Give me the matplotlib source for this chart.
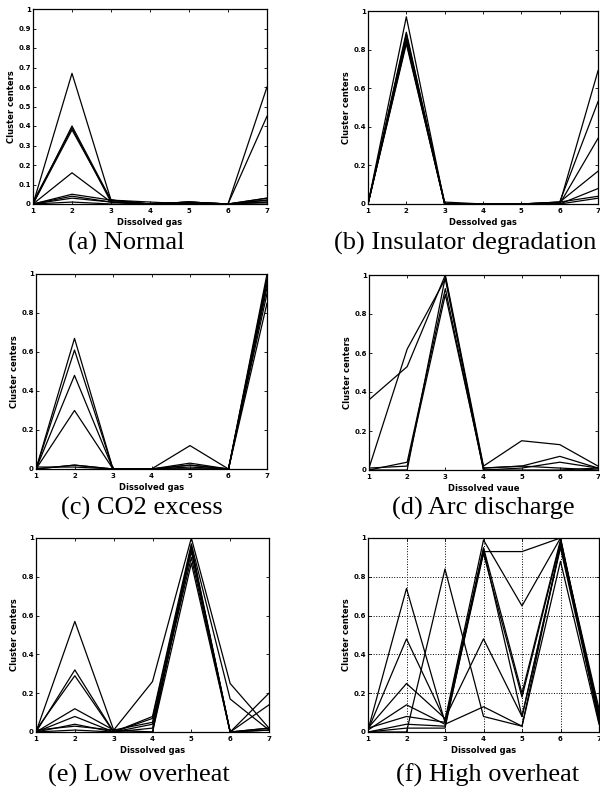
import matplotlib
matplotlib.use("Agg")
import matplotlib.pyplot as plt

gas = [1, 2, 3, 4, 5, 6, 7]

# (a) Normal
normal = [
    [0.0, 0.67, 0.02, 0.0, 0.01, 0.0, 0.60],
    [0.0, 0.40, 0.02, 0.0, 0.0, 0.0, 0.45],
    [0.01, 0.39, 0.01, 0.0, 0.01, 0.0, 0.03],
    [0.0, 0.38, 0.02, 0.01, 0.0, 0.0, 0.02],
    [0.0, 0.16, 0.01, 0.0, 0.01, 0.0, 0.01],
    [0.0, 0.05, 0.02, 0.0, 0.0, 0.0, 0.03],
    [0.0, 0.04, 0.01, 0.0, 0.0, 0.0, 0.02],
    [0.0, 0.03, 0.01, 0.0, 0.01, 0.0, 0.01],
    [0.0, 0.01, 0.0, 0.0, 0.0, 0.0, 0.0],
]

# (b) Insulator degradation
insulator = [
    [0.0, 0.97, 0.0, 0.0, 0.0, 0.0, 0.69],
    [0.0, 0.89, 0.0, 0.0, 0.0, 0.01, 0.53],
    [0.0, 0.88, 0.0, 0.0, 0.0, 0.0, 0.34],
    [0.0, 0.86, 0.01, 0.0, 0.0, 0.01, 0.17],
    [0.0, 0.84, 0.0, 0.0, 0.0, 0.0, 0.08],
    [0.0, 0.83, 0.0, 0.0, 0.0, 0.01, 0.04],
    [0.0, 0.85, 0.0, 0.0, 0.0, 0.0, 0.03],
]

# (c) CO2 excess
co2 = [
    [0.0, 0.67, 0.0, 0.0, 0.0, 0.0, 1.0],
    [0.0, 0.61, 0.0, 0.0, 0.0, 0.0, 0.98],
    [0.0, 0.48, 0.0, 0.0, 0.01, 0.0, 0.95],
    [0.0, 0.30, 0.0, 0.0, 0.02, 0.0, 0.93],
    [0.0, 0.02, 0.0, 0.0, 0.12, 0.0, 0.90],
    [0.01, 0.01, 0.0, 0.0, 0.03, 0.0, 0.85],
    [0.0, 0.02, 0.0, 0.0, 0.02, 0.0, 0.97],
]

# (d) Arc discharge
arc = [
    [0.36, 0.53, 1.0, 0.02, 0.15, 0.13, 0.02],
    [0.01, 0.62, 0.98, 0.01, 0.02, 0.07, 0.01],
    [0.0, 0.04, 0.93, 0.0, 0.01, 0.04, 0.01],
    [0.01, 0.02, 0.90, 0.01, 0.02, 0.01, 0.0],
    [0.0, 0.0, 0.99, 0.0, 0.0, 0.0, 0.01],
]

# (e) Low overheat
low_heat = [
    [0.0, 0.57, 0.01, 0.26, 1.0, 0.25, 0.02],
    [0.0, 0.32, 0.0, 0.08, 0.97, 0.17, 0.01],
    [0.01, 0.29, 0.0, 0.07, 0.95, 0.0, 0.20],
    [0.0, 0.12, 0.01, 0.05, 0.93, 0.0, 0.14],
    [0.0, 0.08, 0.0, 0.04, 0.90, 0.0, 0.01],
    [0.0, 0.04, 0.0, 0.0, 0.87, 0.0, 0.02],
    [0.01, 0.03, 0.01, 0.0, 0.96, 0.0, 0.01],
    [0.0, 0.01, 0.0, 0.02, 0.94, 0.0, 0.02],
]

# (f) High overheat
high_heat = [
    [0.01, 0.74, 0.05, 0.93, 0.93, 1.0, 0.05],
    [0.01, 0.48, 0.06, 0.99, 0.65, 1.0, 0.08],
    [0.0, 0.0, 0.84, 0.08, 0.03, 0.97, 0.10],
    [0.02, 0.25, 0.07, 0.48, 0.08, 0.95, 0.06],
    [0.01, 0.14, 0.04, 0.13, 0.03, 0.88, 0.04],
    [0.02, 0.08, 0.05, 0.95, 0.20, 0.99, 0.07],
    [0.0, 0.04, 0.03, 0.92, 0.18, 0.98, 0.12],
    [0.0, 0.02, 0.02, 0.94, 0.08, 0.96, 0.09],
]

panels = [
    # data, rect (px: left, top, right, bottom), xlabel, caption, y step, grid
    (normal, (33, 9, 267, 204), "Dissolved gas", "(a) Normal", 0.1, False),
    (insulator, (368, 11, 598, 204), "Dessolved gas", "(b) Insulator degradation", 0.2, False),
    (co2, (36, 274, 267, 469), "Dissolved gas", "(c) CO2 excess", 0.2, False),
    (arc, (369, 275, 598, 470), "Dissolved vaue", "(d) Arc discharge", 0.2, False),
    (low_heat, (36, 538, 269, 732), "Dissolved gas", "(e) Low overheat", 0.2, False),
    (high_heat, (368, 538, 599, 732), "Dissolved gas", "(f) High overheat", 0.2, True),
]
caption_pos = [(126, 243), (465, 243), (142, 508), (483, 508), (139, 775), (488, 775)]

W, H = 600, 794
fig = plt.figure(figsize=(6, 7.94), dpi=100)

for (data, (l, t, r, b), xlab, cap, step, grid), (cx, cy) in zip(panels, caption_pos):
    ax = fig.add_axes([l / W, 1 - b / H, (r - l) / W, (b - t) / H])
    for row in data:
        ax.plot(gas, row, color="black", linewidth=0.9)
    ax.set_xlim(1, 7)
    ax.set_ylim(0, 1)
    ax.set_xticks(gas)
    yt = [round(i * step, 1) for i in range(int(round(1 / step)) + 1)]
    ax.set_yticks(yt)
    ax.set_yticklabels(["0" if v == 0 else ("1" if v == 1 else f"{v:g}") for v in yt])
    ax.tick_params(direction="in", top=True, right=True, length=2.5, width=0.6,
                   labelsize=5, pad=1.5)
    ax.tick_params(axis="x", pad=3)
    for lab in ax.get_xticklabels() + ax.get_yticklabels():
        lab.set_fontweight("bold")
    for sp in ax.spines.values():
        sp.set_linewidth(0.9)
    ax.set_xlabel(xlab, fontsize=6, fontweight="bold", labelpad=3)
    ax.set_ylabel("Cluster centers", fontsize=6, fontweight="bold", labelpad=1.5)
    if grid:
        ax.grid(True, linestyle=":", color="black", linewidth=0.7)
    fig.text(cx / W, 1 - cy / H, cap, ha="center", va="center",
             fontsize=19, family="Liberation Serif")

fig.savefig("out.png", dpi=100)
